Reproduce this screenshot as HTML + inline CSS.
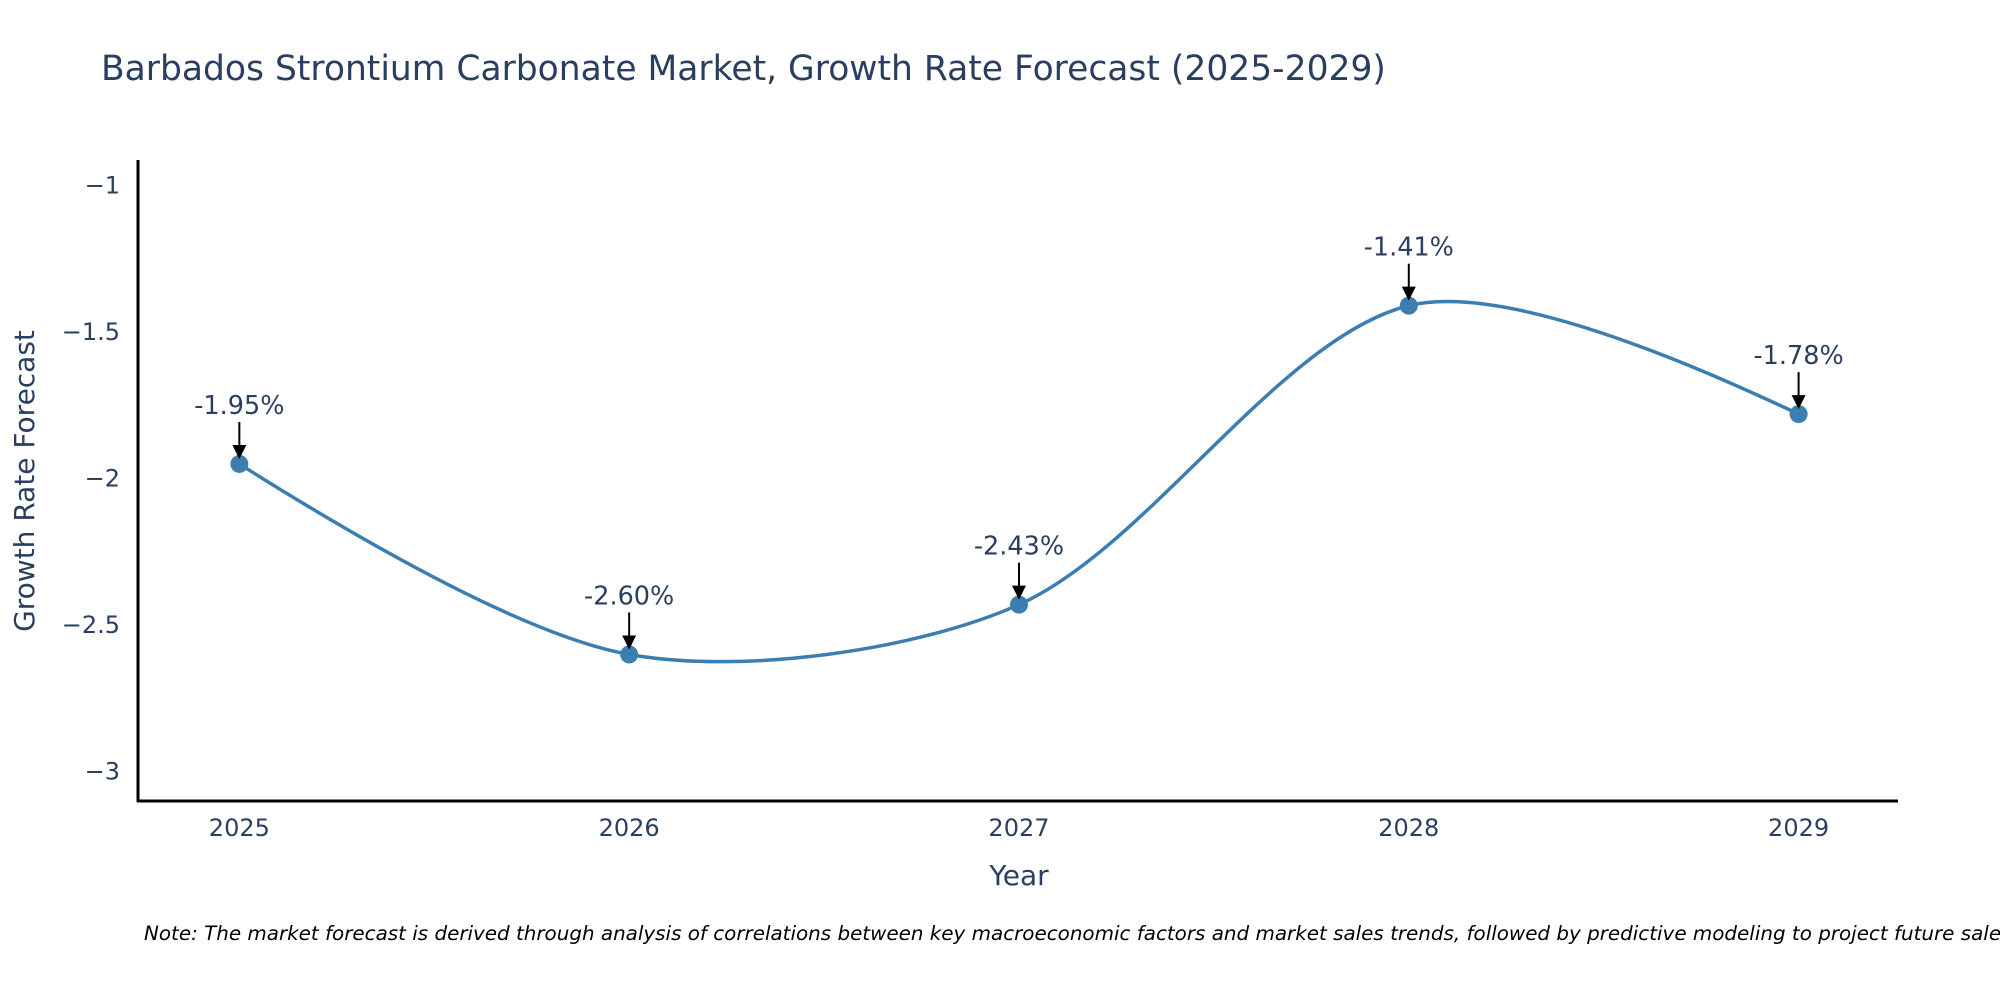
<!DOCTYPE html>
<html><head><meta charset="utf-8"><style>
body{margin:0;background:#fff;}
svg text{font-family:"DejaVu Sans","Liberation Sans",sans-serif;fill:#2a3f5f;}
</style></head><body>
<svg id="chart" width="2000" height="1000" viewBox="0 0 2000 1000">
<text x="101" y="80" font-size="34.5">Barbados Strontium Carbonate Market, Growth Rate Forecast (2025-2029)</text>
<g id="yticks"></g><g id="xticks"></g>
<path id="line" fill="none" stroke="#3d7eb0" stroke-width="3.5"/>
<g id="marks"></g>
<line x1="138" y1="160" x2="138" y2="802" stroke="#000" stroke-width="3"/>
<line x1="137" y1="801" x2="1898" y2="801" stroke="#000" stroke-width="3"/>
<text x="1019" y="885" font-size="28" text-anchor="middle">Year</text>
<text transform="translate(34,481) rotate(-90)" font-size="28" text-anchor="middle">Growth Rate Forecast</text>
<text x="144" y="940" font-size="19.9" font-style="italic" style="fill:#000">Note: The market forecast is derived through analysis of correlations between key macroeconomic factors and market sales trends, followed by predictive modeling to project future sales.</text>
</svg>
<script>
const years=[2025,2026,2027,2028,2029];
const values=[-1.95,-2.60,-2.43,-1.41,-1.78];
const labels=["-1.95%","-2.60%","-2.43%","-1.41%","-1.78%"];
const yTicks=[-1,-1.5,-2,-2.5,-3];
const yTickLabels=["\u22121","\u22121.5","\u22122","\u22122.5","\u22123"];
const ns="http://www.w3.org/2000/svg";
const X0=138,X1=1898,Y0=160,Y1=801,xmin=2024.74,xmax=2029.255,ymin=-3.1,ymax=-0.913;
function sx(v){return X0+(v-xmin)/(xmax-xmin)*(X1-X0);}
function sy(v){return Y1-(v-ymin)/(ymax-ymin)*(Y1-Y0);}
function mk(t,a,p){const e=document.createElementNS(ns,t);for(const k in a)e.setAttribute(k,a[k]);(p||document.getElementById('chart')).appendChild(e);return e;}
const yt=document.getElementById('yticks');
yTicks.forEach((v,i)=>{const t=mk('text',{x:120,y:sy(v)+8,'font-size':24,'text-anchor':'end'},yt);t.textContent=yTickLabels[i];

});
const xt=document.getElementById('xticks');
years.forEach(v=>{const t=mk('text',{x:sx(v),y:836,'font-size':24,'text-anchor':'middle'},xt);t.textContent=v;

});
const P=years.map((y,i)=>[sx(y),sy(values[i])]);
const s=0.3,n=P.length,cin=[],cout=[];
for(let i=1;i<n-1;i++){const a=P[i-1],b=P[i],c=P[i+1];
const d1=Math.hypot(b[0]-a[0],b[1]-a[1]),d2=Math.hypot(c[0]-b[0],c[1]-b[1]);
const tx=c[0]-a[0],ty=c[1]-a[1];
cin[i]=[b[0]-tx*s*d1/(d1+d2),b[1]-ty*s*d1/(d1+d2)];
cout[i]=[b[0]+tx*s*d2/(d1+d2),b[1]+ty*s*d2/(d1+d2)];}
let d=`M${P[0]} Q${cin[1]} ${P[1]}`;
for(let i=1;i<n-2;i++)d+=` C${cout[i]} ${cin[i+1]} ${P[i+1]}`;
d+=` Q${cout[n-2]} ${P[n-1]}`;
document.getElementById('line').setAttribute('d',d);
const g=document.getElementById('marks');
P.forEach((p,i)=>{
const c=mk('circle',{cx:p[0],cy:p[1],r:9,fill:'#3d7eb0'},g);


const l=mk('line',{x1:p[0],y1:p[1]-42,x2:p[0],y2:p[1]-16,stroke:'#000','stroke-width':2},g);


const h=mk('path',{d:`M${p[0]-7} ${p[1]-19} L${p[0]+7} ${p[1]-19} L${p[0]} ${p[1]-5} Z`,fill:'#000'},g);


const t=mk('text',{x:p[0],y:p[1]-50,'font-size':25.5,'text-anchor':'middle'},g);t.textContent=labels[i];


});
</script>
</body></html>
